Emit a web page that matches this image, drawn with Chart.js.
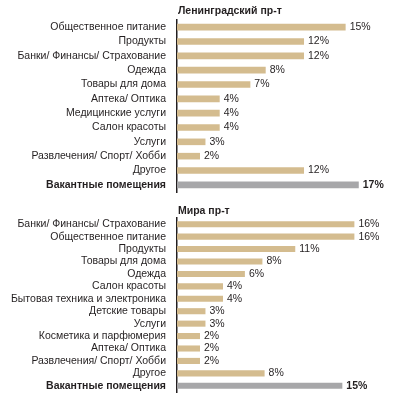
<!DOCTYPE html>
<html>
<head>
<meta charset="utf-8">
<script src="https://cdn.jsdelivr.net/npm/chart.js@4"></script>
<style>
  body { margin: 0; background: #fff; }
  .box { position: relative; width: 403px; }
</style>
</head>
<body>
<div class="box" style="height:197px"><canvas id="chartLeningrad"></canvas></div>
<div class="box" style="height:200px"><canvas id="chartMira"></canvas></div>
<script>
const titleLen = 'Ленинградский пр-т';
const catsLen = ['Общественное питание', 'Продукты', 'Банки/ Финансы/ Страхование', 'Одежда', 'Товары для дома',
  'Аптека/ Оптика', 'Медицинские услуги', 'Салон красоты', 'Услуги', 'Развлечения/ Спорт/ Хобби', 'Другое', 'Вакантные помещения'];
const valsLen = [15.4, 11.6, 11.6, 8.1, 6.7, 3.9, 3.9, 3.9, 2.6, 2.1, 11.6, 16.6];

const titleMira = 'Мира пр-т';
const catsMira = ['Банки/ Финансы/ Страхование', 'Общественное питание', 'Продукты', 'Товары для дома', 'Одежда',
  'Салон красоты', 'Бытовая техника и электроника', 'Детские товары', 'Услуги', 'Косметика и парфюмерия',
  'Аптека/ Оптика', 'Развлечения/ Спорт/ Хобби', 'Другое', 'Вакантные помещения'];
const valsMira = [16.2, 16.2, 10.8, 7.8, 6.2, 4.2, 4.2, 2.6, 2.6, 2.1, 2.1, 2.1, 8.0, 15.1];

const TAN = '#d4bc8f';
const GRAY = '#a7a7a9';
const TEXT = '#231f20';
const FONT = "'Liberation Sans', Arial, sans-serif";
const SIZE = 10.5;

// value labels + title drawn by hand
const labelsPlugin = {
  id: 'barLabels',
  afterDatasetsDraw(chart, args, opts) {
    const c = chart.ctx;
    const meta = chart.getDatasetMeta(0);
    const n = meta.data.length;
    c.save();
    c.fillStyle = TEXT;
    c.textBaseline = 'middle';
    c.textAlign = 'left';
    meta.data.forEach((bar, i) => {
      c.font = (i === n - 1 ? 'bold ' : '') + SIZE + 'px ' + FONT;
      c.fillText(Math.round(chart.data.datasets[0].data[i]) + '%', bar.x + 4, bar.y);
    });
    c.font = 'bold ' + SIZE + 'px ' + FONT;
    c.fillText(opts.text, chart.chartArea.left + 1, opts.y);
    c.restore();
  }
};

function makeChart(id, cats, vals, title, titleY, pad, barPct) {
  const last = cats.length - 1;
  return new Chart(document.getElementById(id), {
    type: 'bar',
    data: {
      labels: cats,
      datasets: [{
        data: vals,
        backgroundColor: vals.map((v, i) => i === last ? GRAY : TAN),
        borderWidth: 0,
        barPercentage: barPct,
        categoryPercentage: 1
      }]
    },
    options: {
      indexAxis: 'y',
      responsive: true,
      maintainAspectRatio: false,
      animation: false,
      layout: { padding: { left: 0, right: 7, top: pad[0], bottom: pad[1] } },
      plugins: {
        legend: { display: false },
        tooltip: { enabled: false },
        barLabels: { text: title, y: titleY }
      },
      scales: {
        x: { display: false, min: 0, max: 20 },
        y: {
          afterFit: (axis) => {
            axis.width = 177;
            axis.paddingTop = 0;
            axis.paddingBottom = 0;
          },
          grid: { display: false, drawTicks: false },
          border: { display: true, color: TEXT, width: 1.5 },
          ticks: {
            autoSkip: false,
            padding: 11,
            color: TEXT,
            font: (ctx) => ({ family: FONT, size: SIZE, weight: ctx.index === last ? 'bold' : 'normal' })
          }
        }
      }
    },
    plugins: [labelsPlugin]
  });
}

makeChart('chartLeningrad', catsLen, valsLen, titleLen, 11, [20, 5], 0.46);
makeChart('chartMira', catsMira, valsMira, titleMira, 14, [21, 5], 0.49);
</script>
</body>
</html>
